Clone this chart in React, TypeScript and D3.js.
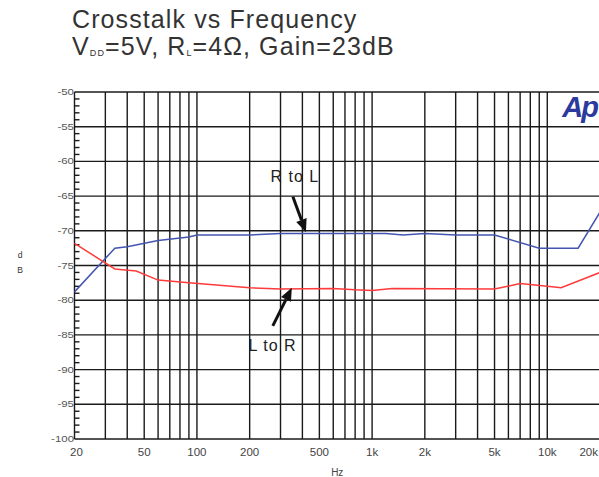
import React from 'react';
import * as d3 from 'd3';

// crosstalk curves (Hz, dB)
const rToLFreq = [20, 34, 40, 60, 90, 100, 200, 300, 1000, 1200, 1500, 2000, 3000, 5000, 9000, 15000, 20000];
const rToLDb = [-78.8, -72.5, -72.3, -71.4, -70.9, -70.6, -70.6, -70.4, -70.4, -70.4, -70.6, -70.4, -70.6, -70.6, -72.5, -72.5, -67.3];

const lToRFreq = [20, 29, 34, 45, 60, 90, 200, 300, 600, 800, 1000, 1300, 5000, 7000, 10000, 12000, 20000];
const lToRDb = [-71.8, -74.4, -75.5, -75.8, -77.1, -77.5, -78.2, -78.4, -78.3, -78.5, -78.6, -78.3, -78.4, -77.6, -78.0, -78.2, -76.0];

const yTicks = [-50, -55, -60, -65, -70, -75, -80, -85, -90, -95, -100];
const xTickValues = [20, 50, 100, 200, 500, 1000, 2000, 5000, 10000, 20000];
const xTickLabels = ['20', '50', '100', '200', '500', '1k', '2k', '5k', '10k', '20k'];

// arrow annotations: label position, arrow tail, arrow tip
const notes = [
  { text: 'R to L', tx: 362, ty: -62.9, f0: 353, d0: -65.1, f1: 419, d1: -70.2 },
  { text: 'L to R', tx: 270, ty: -87.3, f0: 271, d0: -83.7, f1: 348, d1: -78.2 },
];

const W = 599;
const H = 477;
const FONT = '"Liberation Sans", Arial, sans-serif';

const App: React.FC = () => {
  const x = d3.scaleLog().domain([20, 20000]).range([74.5, 600]);
  const y = d3.scaleLinear().domain([-100, -50]).range([439, 92]);

  const line = d3.line<[number, number]>()
    .x(d => x(d[0]))
    .y(d => y(d[1]));

  const blue = rToLFreq.map((f, i) => [f, rToLDb[i]] as [number, number]);
  const red = lToRFreq.map((f, i) => [f, lToRDb[i]] as [number, number]);

  const minor = d3.range(-99, -50).filter(v => v % 5 !== 0);

  const arrow = (n: typeof notes[0]) => {
    const x0 = x(n.f0), y0 = y(n.d0), x1 = x(n.f1), y1 = y(n.d1);
    const ang = Math.atan2(y1 - y0, x1 - x0);
    const len = 13, half = 5.5;
    const bx = x1 - len * Math.cos(ang), by = y1 - len * Math.sin(ang);
    const px = -Math.sin(ang) * half, py = Math.cos(ang) * half;
    return (
      <g key={n.text}>
        <line x1={x0} y1={y0} x2={bx} y2={by} stroke="#111" strokeWidth={3} />
        <path d={`M${x1},${y1}L${bx + px},${by + py}L${bx - px},${by - py}Z`} fill="#111" />
        <text x={x(n.tx)} y={y(n.ty)} textAnchor="middle" fontSize={16} letterSpacing={1} fill="#222">{n.text}</text>
      </g>
    );
  };

  return (
    <svg width={W} height={H} style={{ position: 'absolute', left: 0, top: 0, fontFamily: FONT }}>
      <rect width={W} height={H} fill="#fff" />

      {/* title */}
      <text x={72} y={28} fontSize={25} letterSpacing={1.1} fill="#333">Crosstalk vs Frequency</text>
      <text x={72} y={55} fontSize={25} letterSpacing={1.1} fill="#333">
        V<tspan fontSize={9} dy={1}>DD</tspan><tspan dy={-1}>=5V, R</tspan><tspan fontSize={9} dy={1}>L</tspan><tspan dy={-1}>=4Ω, Gain=23dB</tspan>
      </text>

      {/* grid */}
      <g stroke="#1a1a1a" strokeWidth={1.4}>
        {x.ticks().map(f => (
          <line key={f} x1={x(f)} x2={x(f)} y1={y(-50)} y2={y(-100)} />
        ))}
        {yTicks.map(v => (
          <line key={v} x1={x(20)} x2={x(20000)} y1={y(v)} y2={y(v)} />
        ))}
        {minor.map(v => (
          <line key={v} x1={x(20)} x2={x(20) + 5} y1={y(v)} y2={y(v)} />
        ))}
      </g>

      {/* y labels */}
      <g fill="#555" fontSize={8.5}>
        {yTicks.map(v => (
          <text key={v} transform={`translate(74,${y(v) + 3}) scale(1.35,1)`} textAnchor="end">{v}</text>
        ))}
      </g>
      <text x={20} y={258} fontSize={8.5} textAnchor="middle" fill="#333">d</text>
      <text x={20} y={273} fontSize={8.5} textAnchor="middle" fill="#333">B</text>

      {/* x labels */}
      <g fill="#444" fontSize={11.5}>
        {xTickValues.map((f, i) => {
          const last = i === xTickValues.length - 1;
          return (
            <text key={f} x={last ? 598 : x(f) + (i === 0 ? 2 : 0)} y={456}
              textAnchor={last ? 'end' : 'middle'}>{xTickLabels[i]}</text>
          );
        })}
      </g>
      <text x={(x(20) + x(20000)) / 2} y={476} fontSize={10} textAnchor="middle" fill="#444">Hz</text>

      {/* curves */}
      <path d={line(blue) || ''} fill="none" stroke="#4455b0" strokeWidth={1.5} />
      <path d={line(red) || ''} fill="none" stroke="#ff3a3a" strokeWidth={1.5} />

      {notes.map(arrow)}

      {/* Ap logo */}
      <text x={597} y={117} textAnchor="end" fontSize={29} fontWeight="bold" fontStyle="italic" fill="#2b3a9c" letterSpacing={-2}>Ap</text>
    </svg>
  );
};

export default App;
